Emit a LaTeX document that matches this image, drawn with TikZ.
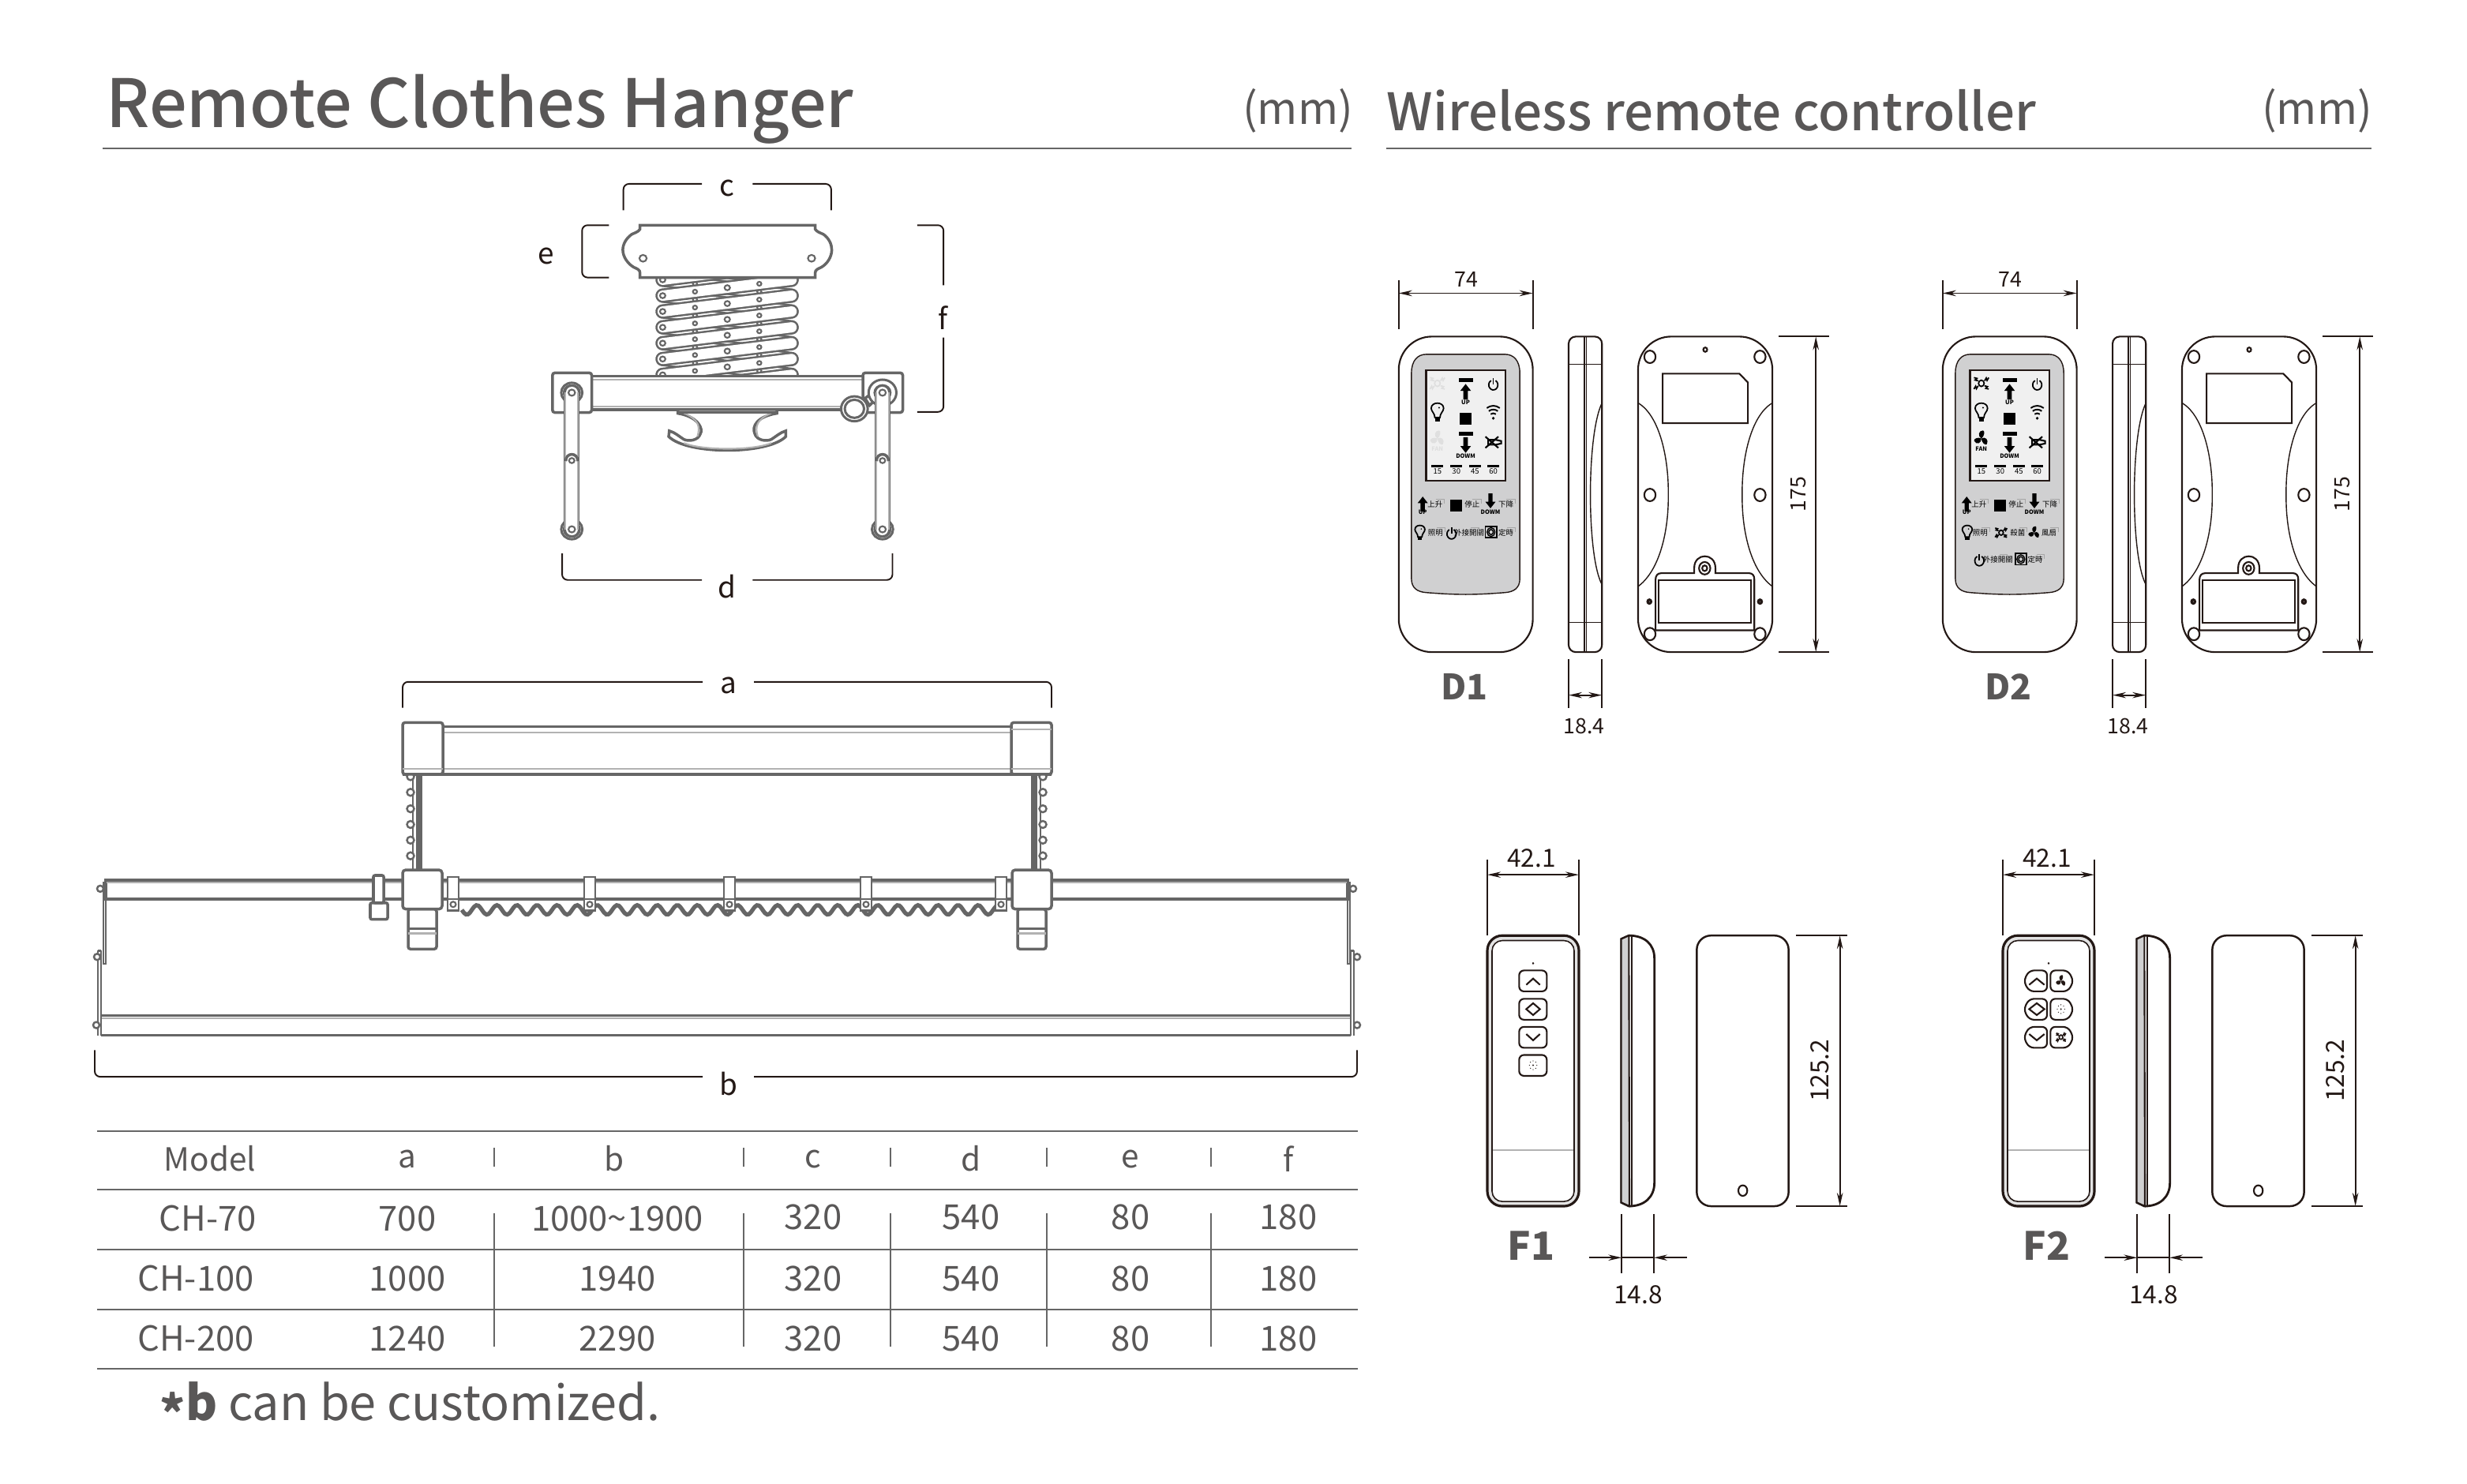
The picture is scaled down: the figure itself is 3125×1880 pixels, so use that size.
\documentclass[tikz,border=0pt]{standalone}
\usepackage{fontspec}
\setmainfont{Noto Sans CJK TC}
\newfontfamily\titlefont{Noto Sans CJK TC Medium}
\usetikzlibrary{arrows.meta,positioning}
\definecolor{inkc}{RGB}{35,24,21}
\definecolor{txtc}{RGB}{89,87,87}
\definecolor{gearc}{RGB}{102,102,102}
\definecolor{gearl}{RGB}{178,178,178}
\definecolor{panelc}{RGB}{208,208,209}
\definecolor{lcdc}{RGB}{240,240,240}
\tikzset{
  dpic/.style={xscale=0.3575,yscale=0.395},
  fpic/.style={xscale=0.3333,yscale=0.395},
  gear/.style={draw=gearc,line width=1pt},
  gearthin/.style={draw=gearl,line width=0.6pt},
  brk/.style={draw=inkc,line width=0.55pt,rounded corners=0.07cm},
  brklab/.style={text=inkc,font=\fontsize{10.5pt}{12pt}\selectfont,inner sep=0pt},
  ln/.style={draw=inkc,line width=0.6pt},
  dim/.style={draw=inkc,line width=0.55pt,{Stealth[length=0.17cm,width=0.075cm]}-{Stealth[length=0.17cm,width=0.075cm]}},
  dimend/.style={draw=inkc,line width=0.55pt,-{Stealth[length=0.17cm,width=0.075cm]}},
  dimsmall/.style={text=inkc,font=\fontsize{7.6pt}{9pt}\selectfont,inner sep=0pt},
  dimbig/.style={text=inkc,font=\fontsize{9pt}{11pt}\selectfont,inner sep=0pt},
  cell/.style={text=txtc,font=\fontsize{12.4pt}{14pt}\selectfont,inner sep=0pt},
  tbl/.style={draw=gearc,line width=0.75pt},
  tbltick/.style={draw=gearc,line width=0.5pt},
  titlel/.style={text=txtc,font=\titlefont\fontsize{24pt}{28pt}\selectfont,inner sep=0pt,anchor=base west},
  titler/.style={text=txtc,font=\titlefont\fontsize{18.6pt}{22pt}\selectfont,inner sep=0pt,anchor=base west},
  unitlab/.style={text=txtc,font=\fontsize{15.7pt}{18pt}\selectfont,inner sep=0pt},
  typelab/.style={text=txtc,font=\bfseries\fontsize{12.6pt}{15pt}\selectfont,inner sep=0pt},
  paneltext/.style={text=black,font=\fontsize{2.7pt}{3pt}\selectfont,inner sep=0pt},
  tinytext/.style={text=black,font=\bfseries\fontsize{2.1pt}{3pt}\selectfont,inner sep=0pt},
  hookln/.style={draw=gray!70,line width=0.3pt},
  linkout/.style={draw=gearc,line width=0.18cm,line cap=round},
  linkin/.style={draw=white,line width=0.13cm,line cap=round},
  hole/.style={draw=gearc,fill=white,line width=0.6pt},
  iconfaint/.style={color=gray!25},
  iconfull/.style={color=black},
  upico/.pic={\fill (0,-25) -- (19,-3) -- (8,-3) -- (8,25) -- (-8,25) -- (-8,-3) -- (-19,-3) -- cycle;},
  downico/.pic={\fill (0,25) -- (19,3) -- (8,3) -- (8,-25) -- (-8,-25) -- (-8,3) -- (-19,3) -- cycle;},
  powerico/.pic={
    \draw[line width=0.5pt] ({18*cos(-60)},{18*sin(-60)}) arc[start angle=-60,end angle=240,radius=18];
    \draw[line width=0.5pt] (0,-24) -- (0,-2);},
  bulbico/.pic={
    \draw[line width=0.5pt] (-9,16) .. controls (-9,2) and (-22,-4) .. (-22,-14) .. controls (-22,-36) and (22,-36) .. (22,-14) .. controls (22,-4) and (9,2) .. (9,16) -- cycle;
    \fill (-9,16) rectangle (9,28);
    \fill (6,-16) circle[radius=3];},
  wifiico/.pic={
    \foreach \r in {16,28,40}{
      \draw[line width=0.55pt] ({\r*cos(-125)},{18+\r*sin(-125)}) arc[start angle=-125,end angle=-55,radius=\r];}
    \fill (0,18) circle[radius=5];},
  muteico/.pic={
    \draw[line width=0.6pt] (-28,-18) -- (18,18) (-28,18) -- (18,-18);
    \draw[line width=0.6pt] (-18,-8) -- (8,-8) -- (28,-4) -- (28,4) -- (8,8) -- (-18,8) -- cycle;},
  sterico/.pic={
    \draw[line width=0.5pt] (0,0) circle[radius=10];
    \foreach \a in {35,145,215,325}{
      \draw[rotate=\a,line width=0.5pt] (14,0) -- (24,-4) -- (22,4) -- (32,0);}},
  fanico/.pic={
    \foreach \a in {0,120,240}{
      \fill[rotate=\a] (0,0) .. controls (-14,-8) and (-10,-26) .. (6,-26) .. controls (14,-24) and (10,-6) .. (0,0);}},
  timerico/.pic={
    \draw[line width=0.5pt] (-20,-18) rectangle (20,18);
    \draw[line width=0.4pt] (0,0) circle[radius=14] (0,0) circle[radius=8];},
  btndot/.pic={
    \foreach \a in {0,45,...,315}{
      \fill (\a:14) circle[radius=1.8];}
    \fill (0,0) circle[radius=3];},
}
\begin{document}
\begin{tikzpicture}[x=0.01cm,y=-0.01cm]
\useasboundingbox (0,0) rectangle (3125,1880);
% titles
\node[titlel] (tl) at (134,162) {Remote Clothes Hanger};
\node[unitlab] (ul) at (1644,140) {(mm)};
\draw[tbl] (130,188) -- (1712,188);
\node[titler] (tr) at (1756,166) {Wireless remote controller};
\node[unitlab] (ur) at (2935,140) {(mm)};
\draw[tbl] (1756,188) -- (3004,188);

% hanger, end view
\begin{scope}[shift={(640.5,200)},xscale=0.3825,yscale=0.3584]
\draw[brk] (390,185) -- (390,92) -- (650,92);
\draw[brk] (818,92) -- (1078,92) -- (1078,185);
\node[brklab] (lc) at (734,108) {c};
\draw[brk] (342,238) -- (253,238) -- (253,423) -- (342,423);
\node[brklab] (le) at (133,346) {e};
\draw[brk] (1363,238) -- (1450,238) -- (1450,450);
\draw[brk] (1450,635) -- (1450,898) -- (1363,898);
\node[brklab] (lf) at (1448,565) {f};
\draw[brk] (187,1398) -- (187,1492) -- (650,1492);
\draw[brk] (818,1492) -- (1281,1492) -- (1281,1398);
\node[brklab] (ld) at (734,1515) {d};
% scissor links
\begin{scope}
\clip (480,423) rectangle (990,772);
\foreach \y in {375,431,...,767}{
  \draw[linkout] (520,\y) -- ++(427,56);
  \draw[linkin] (520,\y) -- ++(427,56);
  \draw[hole] (627,{\y+14}) circle[radius=7];
  \draw[hole] (840,{\y+42}) circle[radius=7];
}
\foreach \y in {431,487,...,823}{
  \draw[linkout] (520,\y) -- ++(427,-56);
  \draw[linkin] (520,\y) -- ++(427,-56);
  \draw[hole] (627,{\y-14}) circle[radius=7];
  \draw[hole] (840,{\y-42}) circle[radius=7];
  \draw[hole] (734,{\y-28}) circle[radius=9];
  \draw[hole] (520,\y) circle[radius=9];
  \draw[hole] (947,\y) circle[radius=9];
}
\end{scope}
% plate
\draw[gear,fill=white] (445,238) -- (1025,238) -- (1025,252) .. controls (1030,262) and (1045,266) .. (1052,270) .. controls (1070,283) and (1080,305) .. (1080,325) .. controls (1080,350) and (1065,375) .. (1045,387) .. controls (1035,392) and (1025,395) .. (1025,407) -- (1025,423) -- (445,423) -- (445,407) .. controls (445,395) and (435,392) .. (425,387) .. controls (405,375) and (388,350) .. (388,325) .. controls (388,305) and (400,283) .. (418,270) .. controls (425,266) and (440,262) .. (445,252) -- cycle;
\draw[hole] (455,355) circle[radius=12];
\draw[hole] (1013,355) circle[radius=12];
% bar
\draw[gear,fill=white] (285,772) rectangle (1185,890);
\draw[gearthin] (285,784) -- (1185,784) (285,878) -- (1185,878);
\draw[gear,fill=white,rounded corners=0.03cm] (155,760) rectangle (285,900);
\draw[gear,fill=white,rounded corners=0.03cm] (1183,760) rectangle (1315,900);
% hook
\draw[gear,fill=white] (570,890) -- (570,903) .. controls (640,915) and (655,960) .. (645,975) .. controls (638,1000) and (605,1003) .. (590,995) .. controls (575,985) and (560,970) .. (542,965) -- (540,985) .. controls (600,1050) and (868,1050) .. (928,985) -- (928,965) .. controls (910,970) and (895,985) .. (880,995) .. controls (865,1003) and (832,1000) .. (825,975) .. controls (815,950) and (830,915) .. (898,903) -- (898,890) -- cycle;
\draw[gearthin] (590,902) .. controls (640,925) and (645,950) .. (635,985) (880,902) .. controls (830,925) and (825,950) .. (835,985) (590,1008) .. controls (650,1035) and (820,1035) .. (880,1008);
\draw[gear] (570,900) -- (898,900);
% ring and rollers
\draw[gear,fill=white] (1190,850) -- (1215,830) -- (1230,850) -- (1205,875) -- cycle;
\draw[hole,line width=0.85pt] (1155,887) circle[radius=44];
\draw[hole,line width=0.85pt] (1155,887) circle[radius=32];
\foreach \x/\r in {219/35,1248/46}{
  \draw[hole,line width=0.85pt] (\x,830) circle[radius=\r];
  \draw[hole,line width=0.85pt] (\x,830) circle[radius=26];
}
% arms
\foreach \x in {219,1248}{
  \draw[hole,line width=0.85pt] (\x,1313) circle[radius=35];
  \draw[hole,line width=0.85pt] (\x,1313) circle[radius=26];
  \draw[draw=gearc,line width=0.2cm,line cap=round] (\x,830) -- (\x,1313);
  \draw[draw=white,line width=0.15cm,line cap=round] (\x,830) -- (\x,1313);
  \draw[gearthin] ({\x-21},830) -- ({\x-21},1313) ({\x+21},830) -- ({\x+21},1313);
  \draw[hole] (\x,830) circle[radius=11];
  \draw[hole] (\x,1313) circle[radius=11];
  \draw[gear] ({\x-20},1072) .. controls ({\x-20},1040) and ({\x+20},1040) .. ({\x+20},1072);
  \draw[hole] (\x,1070) circle[radius=9];
}
\end{scope}

% hanger, front view
\begin{scope}[shift={(0,6.1)},yscale=0.9927]
\draw[brk] (510,897) -- (510,864) -- (890,864);
\draw[brk] (955,864) -- (1332,864) -- (1332,897);
\node[brklab] (la) at (923,869) {a};
\draw[brk] (120,1334) -- (120,1368) -- (890,1368);
\draw[brk] (955,1368) -- (1719,1368) -- (1719,1334);
\node[brklab] (lb) at (923,1377) {b};
% top rail
\draw[gear] (510,921) -- (1332,921) (510,982) -- (1332,982);
\draw[gearthin] (510,929) -- (1332,929) (510,975) -- (1332,975);
% scissors seen from the side
\foreach \x/\s in {532/1,1309/-1}{
  \draw[gear,line width=1.6pt] (\x,982) -- (\x,1106);
  \draw[gear,line width=0.5pt] ({\x-\s*4},982) -- ({\x-\s*4},1106);
  \draw[gear,line width=0.5pt] ({\x-\s*9},982) -- ({\x-\s*9},1106);
  \foreach \y in {985,1005,1026,1046,1066,1086}{
    \draw[gear,fill=white,line width=0.7pt] ({\x-\s*12},\y) circle[radius=4.5];
  }
}
\draw[gear,fill=white,rounded corners=0.03cm] (510,916) rectangle (561,982);
\draw[gear,fill=white,rounded corners=0.03cm] (1281,916) rectangle (1332,982);
\draw[gearthin] (510,975) -- (561,975) (1281,975) -- (1332,975) (1281,925) -- (1332,925);
% wave under the middle rail
\draw[gear,line width=1.5pt] plot[domain=585:1262,samples=260,smooth] (\x,{1155+6*sin(14.173*(\x-585))});
% middle rail
\draw[gear,fill=white] (134,1117) rectangle (1707,1141);
\draw[gearthin] (134,1120) -- (1707,1120);
% bottom rail
\draw[gear] (128,1290) -- (1711,1290) (128,1315) -- (1711,1315);
\draw[gearthin] (128,1293) -- (1711,1293);
% side plates
\foreach \ax/\bx/\sx in {134/128/-1,1707/1711/1}{
  \draw[gear,line width=0.7pt] ({\ax+\sx*3},1119) -- ({\ax+\sx*3},1224) -- (\ax,1224) -- (\ax,1119);
  \draw[gear,line width=0.7pt] ({\bx+\sx*4},1207) -- ({\bx+\sx*4},1315) (\bx,1207) -- (\bx,1315) ({\bx+\sx*4},1207) -- (\bx,1207);
}
\foreach \x/\y in {127/1128,123/1215,122/1302,1714/1128,1719/1215,1719/1302}{
  \draw[gear,fill=white,line width=0.7pt] (\x,\y) circle[radius=4];
}
% clips
\draw[gear,fill=white,rounded corners=0.02cm] (469,1146) rectangle (491,1167);
\draw[gear,fill=white,rounded corners=0.02cm] (473,1111) rectangle (486,1146);
\foreach \x in {574,747,924,1097,1268}{
  \draw[gear,fill=white,line width=0.7pt] ({\x-7},1113) rectangle ({\x+7},1156);
  \draw[gear,line width=0.6pt] ({\x-7},1141) -- ({\x+7},1141);
  \draw[hole,line width=0.6pt] (\x,1148) circle[radius=3.5];
}
% carriers
\foreach \x in {535,1307}{
  \draw[gear,fill=white,rounded corners=0.03cm] ({\x-18},1154) rectangle ({\x+18},1205);
  \draw[gear,line width=0.6pt] ({\x-18},1179) -- ({\x+18},1179);
  \draw[gearthin] ({\x-18},1185) -- ({\x+18},1185);
  \draw[gear,fill=white,rounded corners=0.04cm] ({\x-25},1104) rectangle ({\x+25},1154);
}
\end{scope}

% table
\foreach \y in {1433,1507,1583,1659,1734}{
  \draw[tbl] (123,\y) -- (1720,\y);
}
\foreach \x in {626,942,1128,1326,1534}{
  \draw[tbltick] (\x,1454) -- (\x,1478);
  \draw[tbltick] (\x,1537) -- (\x,1706);
}
\foreach \x/\t in {266/Model,516/a,778/b,1030/c,1230/d,1432/e,1632/f}{
  \node[cell,font=\fontsize{11.5pt}{14pt}\selectfont] (h\t) at (\x,1468) {\t};
}
\foreach \y/\mx/\m/\a/\b/\g in {1544/263/CH-70/700/1000\textasciitilde 1900/1542,1620/248/CH-100/1000/1940/1620,1696/248/CH-200/1240/2290/1696}{
  \node[cell] (m\m) at (\mx,\y) {\m};
  \node[cell] (a\m) at (516,\y) {\a};
  \node[cell] (b\m) at (782,\y) {\b};
  \node[cell] (c\m) at (1030,\g) {320};
  \node[cell] (d\m) at (1230,\g) {540};
  \node[cell] (e\m) at (1432,\g) {80};
  \node[cell] (f\m) at (1632,\g) {180};
}
\node[text=txtc,font=\fontsize{17.4pt}{20pt}\selectfont,inner sep=0pt,anchor=west] (note) at (202,1782) {{\bfseries\raisebox{-0.22em}{*}b} can be customized.};

% controllers D1 and D2
\foreach \dx/\lab/\sc in {0/D1/iconfaint,689/D2/iconfull}{
\begin{scope}[shift={({1760+\dx},330.4)},xscale=0.3575,yscale=0.395]
\draw[dim] (33,104) -- (508,104);
\draw[ln] (33,62) -- (33,220) (508,62) -- (508,220);
\node[dimsmall] (w\lab) at (272,60) {74};
\draw[dim] (1511,243) -- (1511,1255);
\draw[ln] (1380,243) -- (1557,243) (1380,1255) -- (1557,1255);
\node[dimsmall,rotate=90] (h\lab) at (1450,748) {175};
\draw[dim] (635,1393) -- (753,1393);
\draw[ln] (635,1278) -- (635,1435) (753,1278) -- (753,1435);
\node[dimsmall] (t\lab) at (690,1492) {18.4};
\node[typelab] (n\lab) at (266,1365) {\lab};
% front
\draw[ln,rounded corners=0.42cm] (33,243) rectangle (508,1255);
\draw[ln,fill=panelc,line width=0.4pt] (130,300) -- (410,300) .. controls (440,300) and (462,320) .. (462,360) -- (462,1020) .. controls (462,1050) and (440,1062) .. (410,1064) .. controls (300,1072) and (240,1072) .. (130,1064) .. controls (100,1062) and (78,1050) .. (78,1020) -- (78,360) .. controls (78,320) and (100,300) .. (130,300) -- cycle;
\draw[ln,fill=lcdc] (130,350) rectangle (410,705);
\fill (245,375) rectangle (297,388);
\pic[dpic] at (270,420) {upico};
\node[tinytext] (lcdup\lab) at (270,455) {UP};
\fill (249,488) rectangle (292,526);
\fill (245,549) rectangle (297,562);
\pic[dpic] at (270,591) {downico};
\node[tinytext] (lcddn\lab) at (270,627) {DOWM};
\pic[dpic,scale=0.9] at (368,398) {powerico};
\pic[dpic] at (368,487) {wifiico};
\pic[dpic] at (368,582) {muteico};
\pic[dpic] at (170,487) {bulbico};
\pic[dpic,\sc] at (170,393) {sterico};
\pic[dpic,\sc] at (170,570) {fanico};
\node[tinytext,\sc] (lcdfan\lab) at (170,603) {FAN};
\foreach \x/\t in {170/15,237/30,303/45,368/60}{
  \fill ({\x-21},654) rectangle ({\x+21},662);
  \node[paneltext] (lcdt\t\lab) at (\x,676) {\t};
}
% keys, first row
\pic[dpic,scale=0.95] at (118,780) {upico};
\node[tinytext] (kup\lab) at (118,806) {UP};
\fill (216,765) rectangle (258,805);
\pic[dpic,scale=0.95] at (358,770) {downico};
\node[tinytext] (kdn\lab) at (358,806) {DOWM};
\foreach \x/\t in {162/上升,293/停止,413/下降}{
  \node[paneltext] (key\t\lab) at (\x,782) {\t};
  \draw[hookln] ({\x+2},765) -- ({\x+33},765) -- ({\x+33},780);
}
% back
\draw[ln,rounded corners=0.42cm] (881,243) rectangle (1357,1255);
\foreach \x/\y in {923/308,1313/308,923/751,1313/751,923/1197,1313/1197}{
  \draw[ln] (\x,\y) circle[radius=20];
}
\draw[ln] (1119,285) circle[radius=7];
\draw[ln,line width=0.9pt] (921,1093) circle[radius=6];
\draw[ln,line width=0.9pt] (1313,1093) circle[radius=6];
\draw[ln] (968,362) -- (1240,362) -- (1270,390) -- (1270,521) -- (968,521) -- cycle;
\draw[ln,line width=0.4pt] (883,457) .. controls (960,500) and (990,640) .. (988,750) .. controls (990,860) and (960,990) .. (883,1043);
\draw[ln,line width=0.4pt] (1355,457) .. controls (1278,500) and (1248,640) .. (1250,750) .. controls (1248,860) and (1278,990) .. (1355,1043);
\draw[ln] (943,1185) -- (943,1022) .. controls (943,1010) and (950,1002) .. (962,1002) -- (1080,1002) -- (1080,985) .. controls (1080,935) and (1155,935) .. (1155,985) -- (1155,1002) -- (1275,1002) .. controls (1287,1002) and (1293,1010) .. (1293,1022) -- (1293,1185) -- cycle;
\draw[ln] (954,1025) rectangle (1282,1160);
\draw[ln] (1117,986) circle[radius=20];
\draw[ln] (1117,986) circle[radius=9];
% side
\draw[ln,rounded corners=0.09cm] (635,243) rectangle (753,1255);
\draw[ln,line width=0.4pt] (691,243) -- (691,1255) (698,243) -- (698,1255);
\draw[ln,line width=0.4pt] (635,332) -- (753,332) (635,1160) -- (753,1160);
\draw[ln,line width=0.4pt] (751,460) .. controls (722,520) and (712,650) .. (712,750) .. controls (712,850) and (722,980) .. (751,1035);
\end{scope}
}
% D1 keys, second row
\begin{scope}[shift={(1760,330.4)},xscale=0.3575,yscale=0.395]
\pic[dpic,scale=0.8] at (108,873) {bulbico};
\pic[dpic,scale=0.9] at (220,876) {powerico};
\pic[dpic] at (360,870) {timerico};
\foreach \x/\t in {163/照明,283/外接開關,413/定時}{
  \node[paneltext] (keyb\t) at (\x,872) {\t};
  \draw[hookln] ({\x+5},856) -- ({\x+33},856) -- ({\x+33},870);
}
\end{scope}
% D2 keys, second and third row
\begin{scope}[shift={(2449,330.4)},xscale=0.3575,yscale=0.395]
\pic[dpic,scale=0.8] at (120,873) {bulbico};
\pic[dpic,scale=0.8] at (240,872) {sterico};
\pic[dpic,scale=0.8] at (357,872) {fanico};
\pic[dpic,scale=0.9] at (163,962) {powerico};
\pic[dpic] at (310,957) {timerico};
\foreach \x/\y/\t in {166/872/照明,299/872/殺菌,410/872/風扇,229/957/外接開關,361/957/定時}{
  \node[paneltext] (keyc\t) at (\x,\y) {\t};
  \draw[hookln] ({\x+5},{\y-16}) -- ({\x+33},{\y-16}) -- ({\x+33},{\y-2});
}
\end{scope}

% controllers F1 and F2
\foreach \dx/\lab in {0/F1,653/F2}{
\begin{scope}[shift={({1860+\dx},1058)},xscale=0.3333,yscale=0.395]
\draw[dim] (72,127) -- (420,127);
\draw[ln] (72,78) -- (72,322) (420,78) -- (420,322);
\node[dimbig] (w\lab) at (240,75) {42.1};
\draw[dim] (1412,322) -- (1412,1190);
\draw[ln] (1245,322) -- (1440,322) (1245,1190) -- (1440,1190);
\node[dimbig,rotate=90] (h\lab) at (1337,755) {125.2};
\draw[dimend] (460,1355) -- (583,1355);
\draw[dimend] (830,1355) -- (705,1355);
\draw[ln] (583,1355) -- (705,1355);
\draw[ln] (583,1215) -- (583,1405) (705,1215) -- (705,1405);
\node[dimbig] (t\lab) at (645,1474) {14.8};
\node[typelab,font=\bfseries\fontsize{14pt}{16pt}\selectfont] (n\lab) at (238,1316) {\lab};
% front
\draw[ln,line width=0.9pt,fill=panelc!60,rounded corners=0.19cm] (72,322) rectangle (420,1190);
\draw[ln,line width=0.45pt,fill=white,rounded corners=0.13cm] (90,338) rectangle (402,1175);
\draw[gearl,line width=0.5pt] (92,1010) -- (400,1010);
\fill[inkc] (246,411) circle[radius=4];
% side
\draw[ln,line width=0.8pt,fill=white] (581,333) -- (610,322) .. controls (670,322) and (707,350) .. (707,395) -- (707,1115) .. controls (707,1160) and (670,1190) .. (610,1190) -- (581,1178) -- cycle;
\draw[ln,fill=panelc] (581,333) -- (610,322) -- (612,1190) -- (581,1178) -- cycle;
\draw[ln,line width=0.4pt] (621,322) -- (621,1190);
% back
\draw[ln,line width=0.7pt,rounded corners=0.18cm] (868,322) rectangle (1217,1190);
\draw[ln] (1043,1140) circle[radius=17];
\end{scope}
}
% F1 keys
\begin{scope}[shift={(1860,1058)},xscale=0.3333,yscale=0.395]
\foreach \y in {434,525,615,705}{
  \draw[ln,rounded corners=0.06cm] (193,\y) rectangle (298,{\y+67});
}
\draw[ln] (220,480) -- (246,460) -- (272,480);
\draw[ln] (246,539) -- (272,558) -- (246,577) -- (220,558) -- cycle;
\draw[ln] (220,638) -- (246,658) -- (272,638);
\pic[fpic,inkc] at (246,738) {btndot};
\end{scope}
% F2 keys
\begin{scope}[shift={(2513,1058)},xscale=0.3333,yscale=0.395]
\foreach \y in {434,525,615}{
  \draw[ln,rounded corners=0.06cm] (240,\y) -- (172,\y) -- (151,{\y+34}) -- (172,{\y+67}) -- (240,{\y+67}) -- cycle;
  \draw[ln,rounded corners=0.06cm] (253,\y) -- (320,\y) -- (341,{\y+34}) -- (320,{\y+67}) -- (253,{\y+67}) -- cycle;
}
\draw[ln] (172,480) -- (201,460) -- (230,480);
\draw[ln] (201,539) -- (230,558) -- (201,577) -- (172,558) -- cycle;
\draw[ln] (172,638) -- (201,658) -- (230,638);
\pic[fpic,inkc,scale=0.75] at (293,468) {fanico};
\pic[fpic,inkc] at (293,558) {btndot};
\pic[fpic,inkc,scale=0.7] at (293,648) {sterico};
\end{scope}
\end{tikzpicture}
\end{document}
